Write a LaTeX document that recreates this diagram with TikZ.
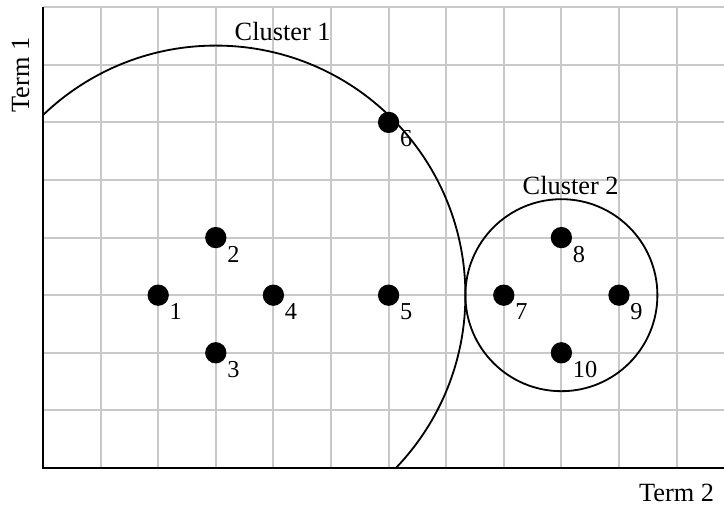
\documentclass[tikz,border=0pt]{standalone}
\usepackage{fontspec}
\setmainfont{Liberation Serif}
\usetikzlibrary{positioning}
\tikzset{gridline/.style={draw=black!21,line width=1pt}}
\tikzset{axisline/.style={draw=black,line width=1pt}}
\tikzset{clusterline/.style={draw=black,line width=.9pt}}
\tikzset{dot/.style={circle,fill=black,inner sep=0pt,minimum size=.37cm}}
\tikzset{lbl/.style={inner sep=0pt,font=\fontsize{12}{14}\selectfont}}
\tikzset{ttl/.style={inner sep=1pt,font=\fontsize{13}{15}\selectfont}}
\begin{document}
\begin{tikzpicture}
\useasboundingbox (-.7465,-.6597) rectangle (11.823,8.125);
\draw[gridline] (0,0) grid (11.823,8);
\draw[axisline] (0,8)--(0,0)--(11.823,0);
\coordinate (c1) at (3,3);\coordinate (c2) at (9,3);
\begin{scope}\clip (0,0) rectangle (11.823,8.125);\draw[clusterline] (c1) circle (13/3);\end{scope}
\draw[clusterline] (c2) circle (5/3);
\foreach \n/\x/\y in {1/2/3,2/3/4,3/3/2,4/4/3,5/6/3,6/6/6,7/8/3,8/9/4,9/10/3,10/9/2}{\node[dot] (p\n) at (\x,\y) {};\node[lbl,anchor=north west] (l\n) at ([yshift=-4pt]p\n.east) {\n};}
\node[ttl] (cl1) at (4.16,7.57) {Cluster 1};
\node[ttl] (cl2) at (9.16,4.9) {Cluster 2};
\node[ttl,rotate=90] (t1) at (-.39,6.82) {Term 1};
\node[ttl] (t2) at (11.0,-.43) {Term 2};
\end{tikzpicture}
\end{document}
